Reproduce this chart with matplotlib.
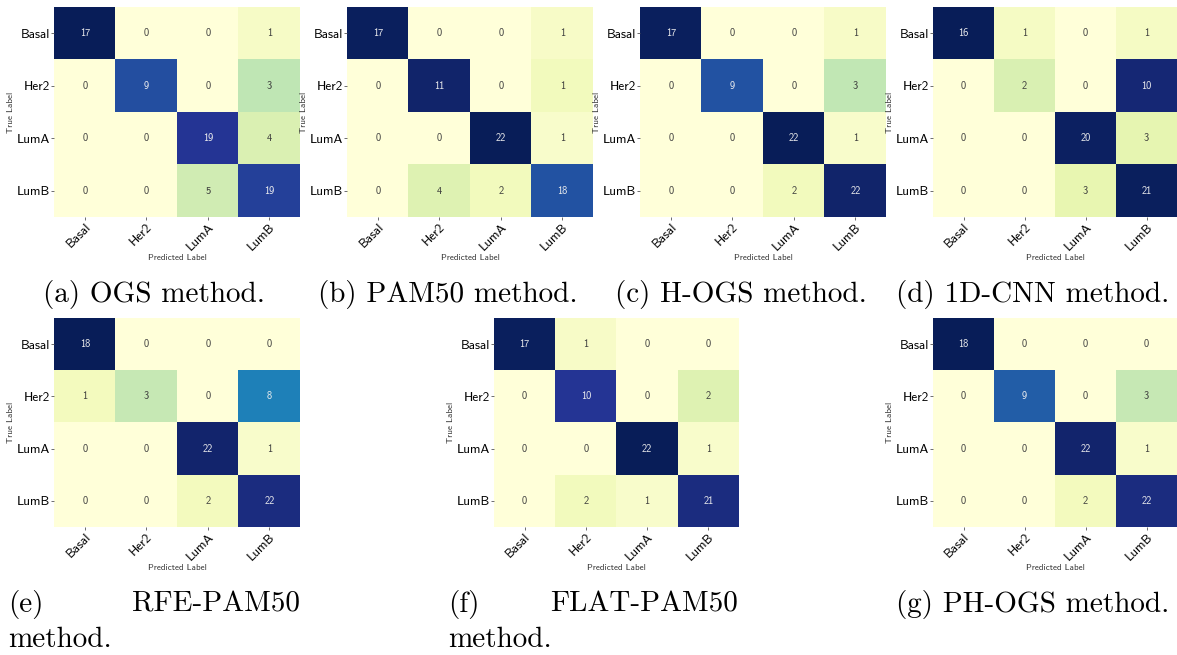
import numpy as np
import matplotlib
matplotlib.use("Agg")
import matplotlib.pyplot as plt
from matplotlib.colors import to_rgb

classes = ["Basal", "Her2", "LumA", "LumB"]

# confusion matrices (rows = true, cols = predicted)
ogs = [[17, 0, 0, 1], [0, 9, 0, 3], [0, 0, 19, 4], [0, 0, 5, 19]]
pam50 = [[17, 0, 0, 1], [0, 11, 0, 1], [0, 0, 22, 1], [0, 4, 2, 18]]
hogs = [[17, 0, 0, 1], [0, 9, 0, 3], [0, 0, 22, 1], [0, 0, 2, 22]]
cnn1d = [[16, 1, 0, 1], [0, 2, 0, 10], [0, 0, 20, 3], [0, 0, 3, 21]]
rfe_pam50 = [[18, 0, 0, 0], [1, 3, 0, 8], [0, 0, 22, 1], [0, 0, 2, 22]]
flat_pam50 = [[17, 1, 0, 0], [0, 10, 0, 2], [0, 0, 22, 1], [0, 2, 1, 21]]
ph_ogs = [[18, 0, 0, 0], [0, 9, 0, 3], [0, 0, 22, 1], [0, 0, 2, 22]]

W, H = 1177, 655
fig = plt.figure(figsize=(W / 100, H / 100), dpi=100)
cmap = plt.get_cmap("YlGnBu")

sans = "cmss10"
serif = "cmr10"


def lum(c):
    rgb = np.array(to_rgb(c))
    rgb = np.where(rgb <= .03928, rgb / 12.92, ((rgb + .055) / 1.055) ** 2.4)
    return .2126 * rgb[0] + .7152 * rgb[1] + .0722 * rgb[2]


def heat(cm, x0, y0, x1, y1):
    ax = fig.add_axes([x0 / W, 1 - y1 / H, (x1 - x0) / W, (y1 - y0) / H])
    cm = np.array(cm, dtype=float)
    # colour by row-normalised rate, scaled to the matrix's own range
    norm = cm / cm.sum(axis=1, keepdims=True)
    vmin, vmax = norm.min(), norm.max()
    ax.imshow(norm, cmap=cmap, vmin=vmin, vmax=vmax, aspect="auto", interpolation="nearest")
    for i in range(4):
        for j in range(4):
            c = cmap((norm[i, j] - vmin) / (vmax - vmin))
            tc = "#3a3a3a" if lum(c) > .408 else "#f0f0f0"
            ax.text(j, i, "%d" % cm[i, j], ha="center", va="center",
                    fontsize=7.5, color=tc, family=sans)
    ax.set_xticks(range(4))
    ax.set_yticks(range(4))
    ax.set_xticklabels(classes, rotation=45, ha="right", rotation_mode="anchor",
                       fontsize=9.5, family=sans)
    ax.set_yticklabels(classes, fontsize=9.5, family=sans)
    ax.tick_params(length=2, width=0.6, pad=1, color="#555555")
    ax.set_xlabel("Predicted Label", fontsize=6.5, family=sans, color="#333333", labelpad=0.5)
    ax.set_ylabel("True Label", fontsize=6.5, family=sans, color="#333333", labelpad=1)
    for s in ax.spines.values():
        s.set_visible(False)
    return ax


top = (7, 217)
bot = (318, 527)
heat(ogs, 54, top[0], 300, top[1])
heat(pam50, 347, top[0], 593, top[1])
heat(hogs, 640, top[0], 886, top[1])
heat(cnn1d, 933, top[0], 1177, top[1])
heat(rfe_pam50, 54, bot[0], 300, bot[1])
heat(flat_pam50, 494, bot[0], 739, bot[1])
heat(ph_ogs, 933, bot[0], 1177, bot[1])

cap = dict(fontsize=21, family=serif, va="baseline")


def txt(x, y, s, ha="center"):
    fig.text(x / W, 1 - y / H, s, ha=ha, **cap)


txt(154, 302, "(a) OGS method.")
txt(448, 302, "(b) PAM50 method.")
txt(741, 302, "(c) H-OGS method.")
txt(1033, 302, "(d) 1D-CNN method.")
txt(1033, 612, "(g) PH-OGS method.")

txt(8, 612, "(e)", ha="left")
txt(300, 612, "RFE-PAM50", ha="right")
txt(8, 647, "method.", ha="left")
txt(448, 612, "(f)", ha="left")
txt(738, 612, "FLAT-PAM50", ha="right")
txt(448, 647, "method.", ha="left")

fig.savefig("out.png", dpi=100)
